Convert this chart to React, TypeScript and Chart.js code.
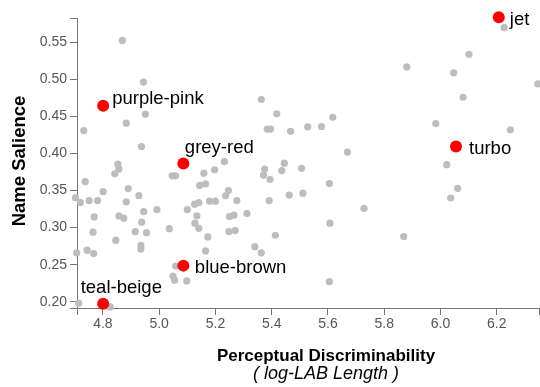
import React, { useEffect, useRef } from "react";
import { Chart, registerables } from "chart.js";

Chart.register(...registerables);

// ---- data ----
const greyX = [
  6.226, 6.101, 5.88, 6.047, 6.346, 6.08, 5.617, 5.528, 5.577, 5.983, 6.248, 5.669, 6.022, 5.506, 5.605, 6.061, 5.511, 6.036, 5.728, 5.607, 5.869, 5.605,
  5.363, 5.418, 5.384, 5.396, 5.467, 5.232, 5.445, 5.159, 5.197, 5.375, 5.436, 5.371, 5.394, 5.144, 5.165, 5.246, 5.236, 5.462, 5.126, 5.141, 5.179, 5.2,
  5.276, 5.391, 5.134, 5.25, 5.266, 5.312, 5.127, 5.141, 5.248, 5.27, 5.413, 5.173, 5.34, 5.363, 5.165,
  4.951, 4.883, 4.732, 4.937, 4.853, 4.857, 4.842, 5.046, 5.058, 4.737, 4.89, 4.801, 4.928, 4.703, 4.72, 4.751, 4.781, 4.883, 4.992, 4.945, 5.1,
  4.769, 4.857, 4.874, 4.938, 5.036, 4.765, 4.915, 4.955, 4.846, 4.935, 4.935, 4.707, 4.744, 4.767, 5.059, 5.049, 5.055, 5.098, 4.714, 4.826,
  4.869, 4.944,
];
const greyY = [
  0.57, 0.534, 0.517, 0.509, 0.494, 0.476, 0.449, 0.436, 0.4365, 0.4405, 0.432, 0.402, 0.385, 0.38, 0.3595, 0.353, 0.3465, 0.34, 0.326, 0.306, 0.288, 0.227,
  0.473, 0.4536, 0.433, 0.433, 0.43, 0.389, 0.387, 0.3735, 0.378, 0.379, 0.377, 0.371, 0.365, 0.357, 0.359, 0.35, 0.343, 0.344, 0.3316, 0.3338, 0.3357, 0.3357,
  0.3365, 0.3365, 0.316, 0.315, 0.317, 0.319, 0.306, 0.299, 0.2946, 0.296, 0.2897, 0.2874, 0.2743, 0.266, 0.2685,
  0.4532, 0.441, 0.431, 0.4095, 0.3857, 0.379, 0.3726, 0.37, 0.37, 0.362, 0.3527, 0.3486, 0.3432, 0.3405, 0.334, 0.3365, 0.3365, 0.3347, 0.3243, 0.3216, 0.3243,
  0.3145, 0.3158, 0.3127, 0.3073, 0.2986, 0.2938, 0.2946, 0.2932, 0.283, 0.276, 0.271, 0.266, 0.2695, 0.265, 0.2482, 0.2347, 0.229, 0.228, 0.198, 0.193,
  0.5527, 0.4965,
];

const highlightNames = ["jet", "turbo", "purple-pink", "grey-red", "blue-brown", "teal-beige"];
const highlightX = [6.207, 6.055, 4.801, 5.086, 5.086, 4.801];
const highlightY = [0.584, 0.4095, 0.4645, 0.3865, 0.2487, 0.1973];

const xTicks = [4.8, 5.0, 5.2, 5.4, 5.6, 5.8, 6.0, 6.2];
const yTicks = [0.2, 0.25, 0.3, 0.35, 0.4, 0.45, 0.5, 0.55];
const xRange = [4.708, 6.35];
const yRange = [0.1915, 0.583];

const xTitle = "Perceptual Discriminability";
const xSubtitle = "( log-LAB Length )";
const yTitle = "Name Salience";

// label placement (pixel offsets from the point, to text start / baseline)
const labelOffsets: Record<string, [number, number]> = {
  jet: [11, 7.7],
  turbo: [13, 7.3],
  "purple-pink": [9, -2],
  "grey-red": [1.5, -10.4],
  "blue-brown": [11.5, 7.6],
  "teal-beige": [-22.5, -10.4],
};

const FONT = "'Liberation Sans', Arial, Helvetica, sans-serif";

export default function App() {
  const ref = useRef<HTMLCanvasElement | null>(null);

  useEffect(() => {
    const canvas = ref.current;
    if (!canvas) return;

    const overlay = {
      id: "overlay",
      afterDatasetsDraw(chart: any) {
        const ctx = chart.ctx;
        const xs = chart.scales.x;
        const ys = chart.scales.y;
        ctx.save();
        ctx.fillStyle = "#000";
        ctx.font = `18.5px ${FONT}`;
        ctx.textAlign = "left";
        ctx.textBaseline = "alphabetic";
        highlightNames.forEach((name, i) => {
          const px = xs.getPixelForValue(highlightX[i]);
          const py = ys.getPixelForValue(highlightY[i]);
          const [dx, dy] = labelOffsets[name];
          ctx.fillText(name, px + dx, py + dy);
        });
        ctx.restore();
      },
      afterDraw(chart: any) {
        const ctx = chart.ctx;
        const a = chart.chartArea;
        ctx.save();
        ctx.fillStyle = "#000";
        ctx.textAlign = "center";
        ctx.textBaseline = "alphabetic";
        const cx = (a.left + a.right) / 2 + 18;
        ctx.font = `bold 17px ${FONT}`;
        ctx.fillText(xTitle, cx, a.bottom + 53);
        ctx.font = `italic 18px ${FONT}`;
        ctx.fillText(xSubtitle, cx, a.bottom + 71);
        ctx.translate(25, (a.top + a.bottom) / 2 - 2);
        ctx.rotate(-Math.PI / 2);
        ctx.font = `bold 18.5px ${FONT}`;
        ctx.fillText(yTitle, 0, 0);
        ctx.restore();
      },
    };

    const chart = new Chart(canvas, {
      type: "scatter",
      data: {
        datasets: [
          {
            label: "highlight",
            data: highlightX.map((x, i) => ({ x, y: highlightY[i] })),
            backgroundColor: "#ff0000",
            borderWidth: 0,
            pointRadius: 6,
            pointHoverRadius: 6,
            clip: false as any,
            order: 0,
          },
          {
            label: "others",
            data: greyX.map((x, i) => ({ x, y: greyY[i] })),
            backgroundColor: "#bdbdbd",
            borderWidth: 0,
            pointRadius: 3.6,
            pointHoverRadius: 3.6,
            clip: false as any,
            order: 1,
          },
        ],
      },
      options: {
        responsive: false,
        animation: false,
        events: [],
        layout: { autoPadding: false, padding: { top: 18, right: 1, left: 0, bottom: 0 } },
        plugins: {
          legend: { display: false },
          tooltip: { enabled: false },
          title: { display: false },
        },
        scales: {
          x: {
            type: "linear",
            min: xRange[0],
            max: xRange[1],
            afterFit(scale: any) {
              scale.height = 79;
              scale.paddingLeft = 0;
              scale.paddingRight = 0;
            },
            afterBuildTicks(scale: any) {
              scale.ticks = [xRange[0], ...xTicks, xRange[1]].map((v) => ({ value: v }));
            },
            ticks: {
              autoSkip: false,
              maxRotation: 0,
              padding: 1,
              color: "#555",
              font: { family: FONT, size: 14 },
              callback: (v: any) => (xTicks.includes(v) ? Number(v).toFixed(1) : ""),
            },
            grid: {
              display: true,
              drawOnChartArea: false,
              drawTicks: true,
              tickLength: 7,
              color: "#777",
              lineWidth: 1,
            },
            border: { display: true, color: "#777", width: 1 },
          },
          y: {
            type: "linear",
            min: yRange[0],
            max: yRange[1],
            afterFit(scale: any) {
              scale.width = 77;
              scale.paddingTop = 0;
              scale.paddingBottom = 0;
            },
            afterBuildTicks(scale: any) {
              scale.ticks = [yRange[0], ...yTicks, yRange[1]].map((v) => ({ value: v }));
            },
            ticks: {
              autoSkip: false,
              padding: 3,
              color: "#555",
              font: { family: FONT, size: 14 },
              callback: (v: any) => (yTicks.includes(v) ? Number(v).toFixed(2) : ""),
            },
            grid: {
              display: true,
              drawOnChartArea: false,
              drawTicks: true,
              tickLength: 7,
              color: "#777",
              lineWidth: 1,
            },
            border: { display: true, color: "#777", width: 1 },
          },
        },
      },
      plugins: [overlay],
    });

    return () => chart.destroy();
  }, []);

  return (
    <div style={{ position: "fixed", left: 0, top: 0, width: 540, height: 387, background: "#fff" }}>
      <canvas ref={ref} width={540} height={387} style={{ width: 540, height: 387, display: "block" }} />
    </div>
  );
}
